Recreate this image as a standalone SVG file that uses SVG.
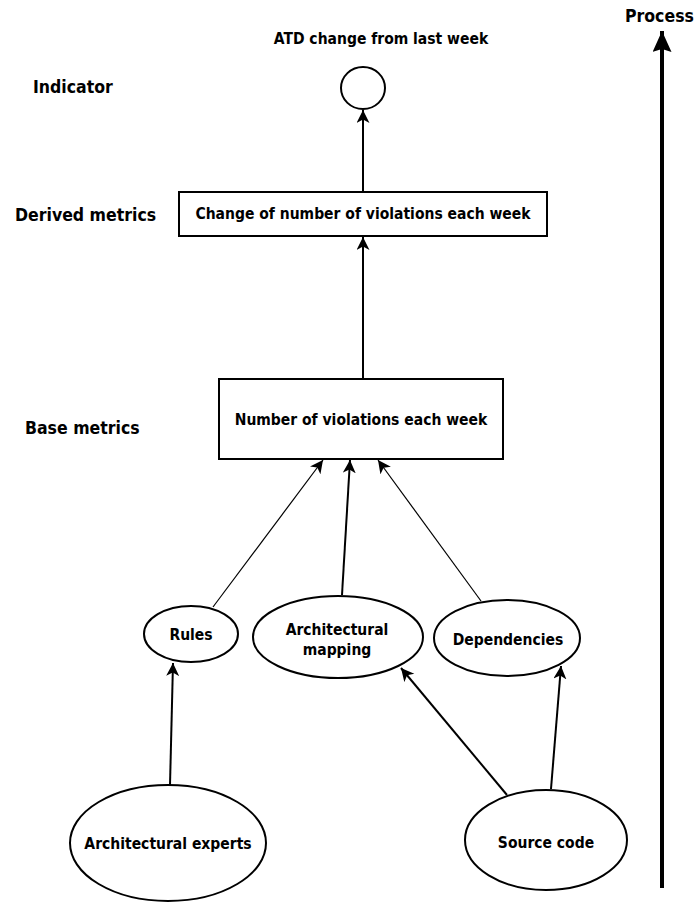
<svg xmlns="http://www.w3.org/2000/svg" width="698" height="902" viewBox="0 0 698 902">
  <style>
    text { font-family: "DejaVu Sans Condensed", "DejaVu Sans", "Liberation Sans", sans-serif; font-weight: bold; fill: #000; }
    .lbl { font-size: 17.5px; }
    .nd { font-size: 15.5px; text-anchor: middle; }
    .shape { fill: #fff; stroke: #000; stroke-width: 2; }
    .edge { fill: none; stroke: #000; stroke-width: 2; }
    .thin { stroke-width: 1.2; }
    .axis { stroke-width: 4; }
  </style>
  <defs>
    <marker id="arrow" markerUnits="userSpaceOnUse" markerWidth="14" markerHeight="14" refX="13" refY="6.5" orient="auto">
      <path d="M0,0 L13,6.5 L0,13 L3.5,6.5 z" fill="#000"/>
    </marker>
    <marker id="arrowBig" markerUnits="userSpaceOnUse" markerWidth="22" markerHeight="20" refX="21" refY="9.5" orient="auto">
      <path d="M0,0 L21,9.5 L0,19 L3,9.5 z" fill="#000"/>
    </marker>
  </defs>

  <rect width="698" height="902" fill="#fff"/>

  <!-- level labels -->
  <g id="level-labels">
    <text class="lbl" x="33" y="93">Indicator</text>
    <text class="lbl" x="15" y="221">Derived metrics</text>
    <text class="lbl" x="25" y="434">Base metrics</text>
    <text class="lbl" x="625" y="22">Process</text>
  </g>

  <!-- connectors -->
  <g id="connectors">
    <line class="edge axis" x1="662" y1="888" x2="662" y2="31" marker-end="url(#arrowBig)"/>
    <line class="edge" x1="363" y1="191" x2="363" y2="110" marker-end="url(#arrow)"/>
    <line class="edge" x1="363" y1="379" x2="363" y2="237" marker-end="url(#arrow)"/>
    <line class="edge thin" x1="213" y1="607" x2="323" y2="460" marker-end="url(#arrow)"/>
    <line class="edge" x1="342" y1="595" x2="350" y2="460" marker-end="url(#arrow)"/>
    <line class="edge thin" x1="481" y1="601" x2="378" y2="460" marker-end="url(#arrow)"/>
    <line class="edge" x1="170" y1="785" x2="173" y2="663" marker-end="url(#arrow)"/>
    <line class="edge" x1="507" y1="795" x2="401" y2="668" marker-end="url(#arrow)"/>
    <line class="edge" x1="551" y1="789" x2="561" y2="666" marker-end="url(#arrow)"/>
  </g>

  <!-- nodes -->
  <g id="atd-indicator">
    <text class="nd" x="381" y="44">ATD change from last week</text>
    <ellipse class="shape" cx="363" cy="88" rx="22" ry="21"/>
  </g>

  <g id="change-of-violations">
    <rect class="shape" x="179" y="192" width="368" height="44"/>
    <text class="nd" x="363" y="219">Change of number of violations each week</text>
  </g>

  <g id="number-of-violations">
    <rect class="shape" x="219" y="379" width="284" height="80"/>
    <text class="nd" x="361" y="425">Number of violations each week</text>
  </g>

  <g id="rules">
    <ellipse class="shape" cx="191" cy="634" rx="47" ry="28"/>
    <text class="nd" x="191" y="640">Rules</text>
  </g>

  <g id="architectural-mapping">
    <ellipse class="shape" cx="338" cy="637" rx="85" ry="41"/>
    <text class="nd" x="337" y="635">Architectural</text>
    <text class="nd" x="337" y="655">mapping</text>
  </g>

  <g id="dependencies">
    <ellipse class="shape" cx="507" cy="638" rx="73" ry="38"/>
    <text class="nd" x="508" y="645">Dependencies</text>
  </g>

  <g id="architectural-experts">
    <ellipse class="shape" cx="168" cy="843" rx="98" ry="58"/>
    <text class="nd" x="168" y="849">Architectural experts</text>
  </g>

  <g id="source-code">
    <ellipse class="shape" cx="546" cy="840" rx="81" ry="50"/>
    <text class="nd" x="546" y="848">Source code</text>
  </g>
</svg>
